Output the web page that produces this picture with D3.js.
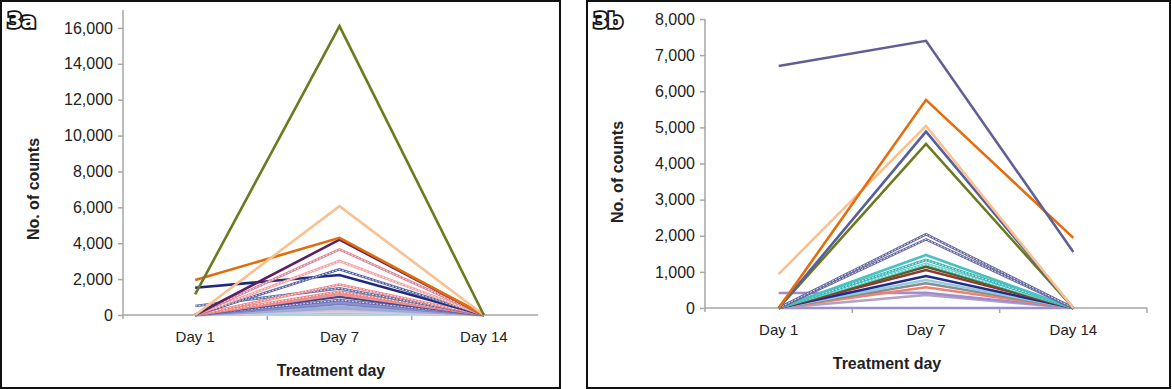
<!DOCTYPE html>
<html>
<head>
<meta charset="utf-8">
<script src="https://cdn.jsdelivr.net/npm/d3@7"></script>
<style>
  body { margin: 0; background: #fff; }
  svg { display: block; font-family: "Liberation Sans", Arial, sans-serif; }
  .axis path, .axis line { stroke: #a6a6a6; stroke-width: 1.5; }
  .axtitle { font-weight: bold; font-size: 16px; fill: #222; }
  .plabel { font-family: "DejaVu Sans", sans-serif; font-weight: bold; font-size: 22px;
            fill: #fff; stroke: #111; stroke-width: 3.6; paint-order: stroke; letter-spacing: -1px; }
</style>
</head>
<body>
<svg id="chart" width="1172" height="389"></svg>
<script>
// treatment days (categories)
var days = ["Day 1", "Day 7", "Day 14"];

// panel 3a: counts per series at Day 1 / Day 7 / Day 14
var seriesA = [
    [0, 60, 0],
    [0, 100, 0],
    [0, 130, 0],
    [0, 200, 0],
    [0, 280, 0],
    [0, 380, 0],
    [0, 460, 0],
    [0, 610, 0],
    [0, 720, 0],
    [0, 835, 0],
    [0, 1020, 0],
    [0, 1150, 0],
    [0, 1300, 0],
    [500, 1485, 0],
    [0, 1700, 0],
    [1520, 2230, 0],
    [0, 2545, 0],
    [0, 3010, 0],
    [0, 3660, 0],
    [0, 4200, 0],
    [1950, 4300, 0],
    [0, 6070, 0],
    [1150, 16100, 0]
];
var colorsA = ["#e8e08a", "#b7dee8", "#92cddc", "#d9d0e8", "#ccc1da", "#a9a0d8", "#95b3d7",
    "#8080c0", "#9090d0", "#6666aa", "#3f4a8f", "#f09090", "#e6817f", "#5b6eaa",
    "#f08080", "#1f2a7a", "#4f5f9f", "#f4a0a0", "#d98096", "#5c2060", "#e36c0a",
    "#fac090", "#6b7a1f"];
var doubleA = [9, 12, 13, 14, 16, 17, 18];

// panel 3b
var seriesB = [
    [0, 0, 0],
    [0, 360, 0],
    [415, 424, 0],
    [0, 573, 0],
    [0, 684, 0],
    [0, 775, 0],
    [0, 886, 0],
    [0, 1050, 0],
    [0, 1145, 0],
    [0, 1220, 0],
    [0, 1330, 0],
    [0, 1468, 0],
    [0, 1900, 0],
    [0, 2040, 0],
    [0, 4543, 0],
    [0, 4884, 0],
    [940, 5040, 0],
    [0, 5762, 1940],
    [6700, 7396, 1550]
];
var colorsB = ["#9b8fcf", "#b3a2c7", "#9b8fcf", "#f08070", "#8c8c8c", "#93cddd", "#1f2a8a",
    "#943634", "#4f6228", "#66cccc", "#33b5b5", "#4bc0c0", "#6466a0", "#6466a0",
    "#6b7a1f", "#55609a", "#fac090", "#e46c0a", "#5f5f96"];
var doubleB = [9, 10, 12, 13];

var ticksA = d3.range(0, 16001, 2000);
var ticksB = d3.range(0, 8001, 1000);

var svg = d3.select("#chart");

function styleTicks(sel, size) {
    sel.attr("font-family", "Liberation Sans, Arial, sans-serif").attr("font-size", size);
    sel.selectAll("text").style("fill", "#222").style("font-size", size + "px");
}

function drawPanel(cfg) {
    var g = svg.append("g");

    // frame
    g.append("rect")
        .attr("x", cfg.box[0]).attr("y", cfg.box[1])
        .attr("width", cfg.box[2]).attr("height", cfg.box[3])
        .attr("fill", "#fff").attr("stroke", "#111").attr("stroke-width", 2);

    var x = d3.scaleBand().domain(days).range(cfg.xRange);
    var y = d3.scaleLinear().domain(cfg.yDomain).range(cfg.yRange);
    var y0 = y(0);

    // y axis
    var ya = g.append("g").attr("class", "axis")
        .attr("transform", "translate(" + cfg.xRange[0] + ",0)")
        .call(d3.axisLeft(y).tickValues(cfg.ticks).tickFormat(d3.format(",")).tickSize(5).tickPadding(5));
    ya.select(".domain").attr("d", "M0," + (y0 + 4) + "V" + y.range()[1]);
    styleTicks(ya, 16);

    // x axis
    var xa = g.append("g").attr("class", "axis")
        .attr("transform", "translate(0," + y0 + ")")
        .call(d3.axisBottom(x).tickSize(0).tickPadding(16));
    xa.select(".domain").attr("d", "M" + cfg.xRange[0] + ",0H" + cfg.axisEnd);
    styleTicks(xa, 15);
    var bounds = days.map(function(d) { return x(d); }).slice(1);
    if (cfg.endTick) bounds.push(cfg.xRange[1]);
    xa.selectAll(".btick").data(bounds).enter().append("line")
        .attr("class", "btick")
        .attr("x1", function(d) { return d; }).attr("x2", function(d) { return d; })
        .attr("y1", 0).attr("y2", 5);

    // series
    var line = d3.line()
        .x(function(d, i) { return x(days[i]) + x.bandwidth() / 2; })
        .y(function(d) { return y(d); });

    cfg.series.forEach(function(s, i) {
        g.append("path")
            .attr("d", line(s))
            .attr("fill", "none")
            .attr("stroke", cfg.colors[i])
            .attr("stroke-width", 2.6)
            .attr("stroke-linejoin", "miter");
        if (cfg.doubles.indexOf(i) >= 0) {
            g.append("path")
                .attr("d", line(s))
                .attr("fill", "none")
                .attr("stroke", "#fff")
                .attr("stroke-width", 0.8)
                .attr("stroke-dasharray", "2,1.5");
        }
    });

    // titles
    g.append("text").attr("class", "axtitle")
        .attr("text-anchor", "middle")
        .attr("transform", "translate(" + cfg.yTitle[0] + "," + cfg.yTitle[1] + ") rotate(-90)")
        .text("No. of counts");
    g.append("text").attr("class", "axtitle")
        .attr("text-anchor", "middle")
        .attr("x", cfg.xTitle).attr("y", y0 + 61)
        .text("Treatment day");

    g.append("text").attr("class", "plabel")
        .attr("x", cfg.box[0] + 6).attr("y", 28)
        .text(cfg.label);
}

drawPanel({
    label: "3a",
    box: [1, 1, 559, 387],
    xRange: [123, 556],
    axisEnd: 538,
    endTick: false,
    yDomain: [0, 17000],
    yRange: [315, 10],
    ticks: ticksA,
    series: seriesA,
    colors: colorsA,
    doubles: doubleA,
    yTitle: [39, 189],
    xTitle: 331
});

drawPanel({
    label: "3b",
    box: [587, 1, 583, 387],
    xRange: [705, 1147],
    axisEnd: 1147,
    endTick: true,
    yDomain: [0, 8000],
    yRange: [308, 19],
    ticks: ticksB,
    series: seriesB,
    colors: colorsB,
    doubles: doubleB,
    yTitle: [623, 172],
    xTitle: 887
});
</script>
</body>
</html>
